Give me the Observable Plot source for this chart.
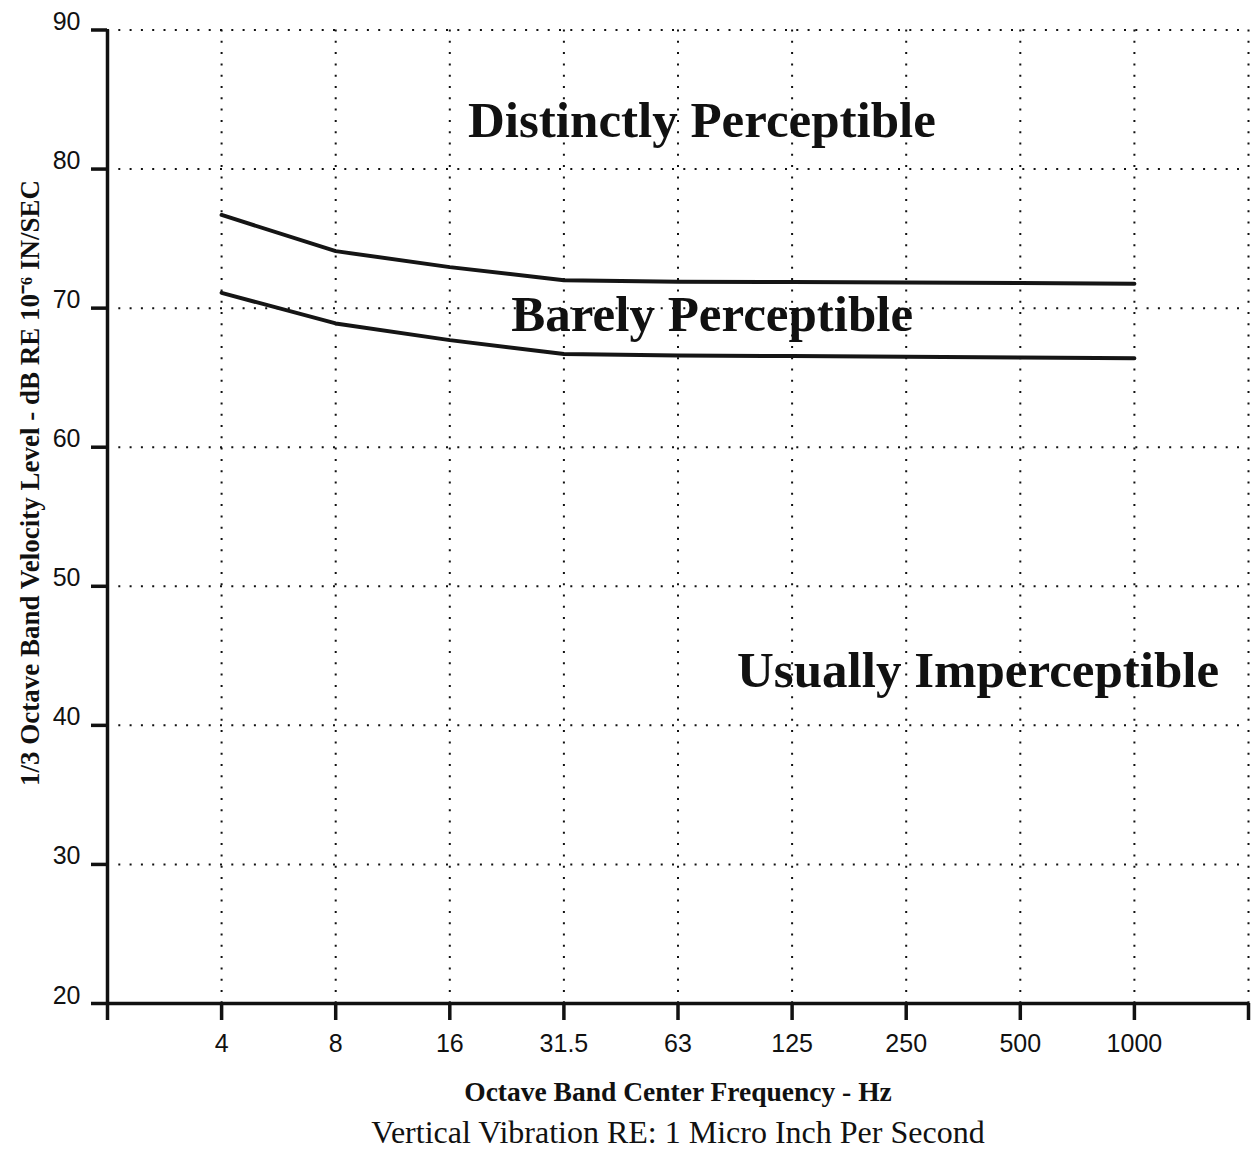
<!DOCTYPE html>
<html>
<head>
<meta charset="utf-8">
<script src="https://cdn.jsdelivr.net/npm/d3@7"></script>
<script src="https://cdn.jsdelivr.net/npm/@observablehq/plot@0.6"></script>
<style>
  html, body { margin: 0; padding: 0; background: #fff; }
  #chart svg { display: block; }
</style>
</head>
<body>
<div id="chart"></div>
<script>
// ---- data ----
const freqLabels = ["4", "8", "16", "31.5", "63", "125", "250", "500", "1000"];
const upperCurve = [76.7, 74.1, 72.95, 72.0, 71.9, 71.88, 71.85, 71.8, 71.75];
const lowerCurve = [71.1, 68.9, 67.7, 66.7, 66.6, 66.55, 66.5, 66.45, 66.4];
const yTicks = [20, 30, 40, 50, 60, 70, 80, 90];
const regionNames = ["Distinctly Perceptible", "Barely Perceptible", "Usually Imperceptible"];
const regionX = [5.21, 5.30, 7.63];
const regionY = [83.45, 69.55, 43.9];
const xTitle = "Octave Band Center Frequency - Hz";
const caption = "Vertical Vibration RE: 1 Micro Inch Per Second";
const yTitle = "1/3 Octave Band Velocity Level - dB RE 10\u207B\u2076 IN/SEC";

// ---- derived tables ----
const xIndex = freqLabels.map((_, i) => i + 1);
const curves = [
  ...freqLabels.map((f, i) => ({curve: "upper", x: i + 1, v: upperCurve[i]})),
  ...freqLabels.map((f, i) => ({curve: "lower", x: i + 1, v: lowerCurve[i]}))
];
const regions = regionNames.map((name, i) => ({name, x: regionX[i], y: regionY[i]}));
const gridX = [...xIndex, freqLabels.length + 1];
const gridY = yTicks.filter(d => d > 20);
const axisXTicks = [0, ...gridX];

const serif = "'Liberation Serif', 'Times New Roman', Times, serif";
const sans = "'Liberation Sans', Arial, Helvetica, sans-serif";
const dots = "2,9.3";

const chart = Plot.plot({
  width: 1253,
  height: 1150,
  marginLeft: 107,
  marginRight: 5,
  marginTop: 29.5,
  marginBottom: 147,
  style: {background: "#fff", color: "#111", overflow: "visible"},
  x: {domain: [0, 10], axis: null},
  y: {domain: [20, 90], axis: null},
  marks: [
    // dotted grid
    Plot.ruleY(gridY, {stroke: "#111", strokeWidth: 2, strokeDasharray: dots}),
    Plot.ruleX(gridX, {stroke: "#111", strokeWidth: 2, strokeDasharray: dots}),
    // axis lines
    Plot.ruleX([0], {y1: 20, y2: 90, stroke: "#111", strokeWidth: 3.5}),
    Plot.ruleY([20], {x1: 0, x2: 10, stroke: "#111", strokeWidth: 3.5}),
    // y ticks and labels
    Plot.axisY(yTicks, {anchor: "left", tickSize: 16, text: null, strokeWidth: 3.5, stroke: "#111"}),
    Plot.axisY(yTicks, {anchor: "left", tickSize: 16, tickPadding: 11, stroke: null,
      fontSize: 25, fontFamily: sans, fill: "#111", dy: -8, tickFormat: d => String(d)}),
    // x ticks and labels
    Plot.axisX(axisXTicks, {anchor: "bottom", tickSize: 17, tickPadding: 14, strokeWidth: 3.5, stroke: "#111",
      fontSize: 25, fontFamily: sans, fill: "#111", label: null,
      tickFormat: d => freqLabels[d - 1] ?? ""}),
    // curves
    Plot.line(curves, {x: "x", y: "v", z: "curve", stroke: "#151515", strokeWidth: 4, strokeLinejoin: "round"}),
    // region labels
    Plot.text(regions, {x: "x", y: "y", text: "name", fontFamily: serif, fontWeight: "bold",
      fontSize: 51, fill: "#111"}),
    // axis titles
    Plot.text([xTitle], {frameAnchor: "bottom", dy: 97, fontFamily: serif, fontWeight: "bold",
      fontSize: 27.5, fill: "#111"}),
    Plot.text([caption], {frameAnchor: "bottom", dy: 139, fontFamily: serif,
      fontSize: 32, fill: "#111"}),
    Plot.text([yTitle], {frameAnchor: "left", textAnchor: "middle", rotate: -90, dx: -77.6, dy: -33.75,
      fontFamily: serif, fontWeight: "bold", fontSize: 27, fill: "#111"})
  ]
});
document.getElementById("chart").appendChild(chart);
</script>
</body>
</html>
